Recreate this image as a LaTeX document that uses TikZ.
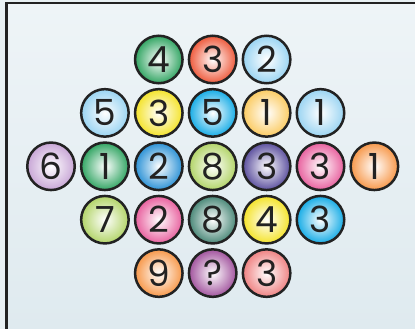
\documentclass[tikz,border=0pt]{standalone}
\usepackage{fontspec}
\usepackage{tikz}
\usetikzlibrary{positioning,shapes.geometric,calc}
\newfontfamily\ballfont{Poppins}

\definecolor{pageBg}{HTML}{E8F0F3}
\definecolor{boxTop}{HTML}{EEF4F7}
\definecolor{boxBot}{HTML}{DFEAEF}
\definecolor{inkDark}{HTML}{222222}
\definecolor{cGreen}{HTML}{32A563}
\definecolor{cRed}{HTML}{EE5A3C}
\definecolor{cSky}{HTML}{9AD4F2}
\definecolor{cYellow}{HTML}{F4E32A}
\definecolor{cCyan}{HTML}{16ACE6}
\definecolor{cApricot}{HTML}{FBCB62}
\definecolor{cLilac}{HTML}{C8A6D6}
\definecolor{cBlue}{HTML}{2C92D6}
\definecolor{cLime}{HTML}{B2D468}
\definecolor{cPurple}{HTML}{5C509E}
\definecolor{cPink}{HTML}{E8609E}
\definecolor{cOrange}{HTML}{F7984A}
\definecolor{cSage}{HTML}{4A8878}
\definecolor{cPlum}{HTML}{A2549E}
\definecolor{cSalmon}{HTML}{EF8282}

\begin{document}
\begin{tikzpicture}[
    x=1pt, y=-1pt,
    % Styles
    ball/.style={circle, draw=inkDark, line width=2.5pt, minimum size=47.5pt, inner sep=0pt,
        shade, inner color=white, outer color=#1, text=inkDark,
        font=\ballfont\fontsize{36}{36}\selectfont}
]

% ================= FRAME =================
\useasboundingbox (0,0) rectangle (415,329);
\fill[pageBg] (0,0) rectangle (415,329);
\shade[top color=boxTop, bottom color=boxBot] (6.5,3) rectangle (415,329);
\draw[inkDark, line width=2.5pt] (6.5,329) -- (6.5,3) -- (415,3);

% ================= ROW 1 =================
\node[ball=cGreen]  (r1a) at (158.8, 59.5) {4};
\node[ball=cRed]    (r1b) at (212.7, 59.5) {3};
\node[ball=cSky]    (r1c) at (266.6, 59.5) {2};

% ================= ROW 2 =================
\node[ball=cSky]      (r2a) at (104.9, 112.9) {5};
\node[ball=cYellow]   (r2b) at (158.8, 112.9) {3};
\node[ball=cCyan]     (r2c) at (212.7, 112.9) {5};
\node[ball=cApricot]  (r2d) at (266.6, 112.9) {1};
\node[ball=cSky]      (r2e) at (320.5, 112.9) {1};

% ================= ROW 3 =================
\node[ball=cLilac]   (r3a) at (51.0, 166.3) {6};
\node[ball=cGreen]   (r3b) at (104.9, 166.3) {1};
\node[ball=cBlue]    (r3c) at (158.8, 166.3) {2};
\node[ball=cLime]    (r3d) at (212.7, 166.3) {8};
\node[ball=cPurple]  (r3e) at (266.6, 166.3) {3};
\node[ball=cPink]    (r3f) at (320.5, 166.3) {3};
\node[ball=cOrange]  (r3g) at (374.4, 166.3) {1};

% ================= ROW 4 =================
\node[ball=cLime]    (r4a) at (104.9, 219.7) {7};
\node[ball=cPink]    (r4b) at (158.8, 219.7) {2};
\node[ball=cSage]    (r4c) at (212.7, 219.7) {8};
\node[ball=cYellow]  (r4d) at (266.6, 219.7) {4};
\node[ball=cCyan]    (r4e) at (320.5, 219.7) {3};

% ================= ROW 5 =================
\node[ball=cOrange]  (r5a) at (158.8, 273.1) {9};
\node[ball=cPlum]    (r5b) at (212.7, 273.1) {?};
\node[ball=cSalmon]  (r5c) at (266.6, 273.1) {3};

\end{tikzpicture}
\end{document}
